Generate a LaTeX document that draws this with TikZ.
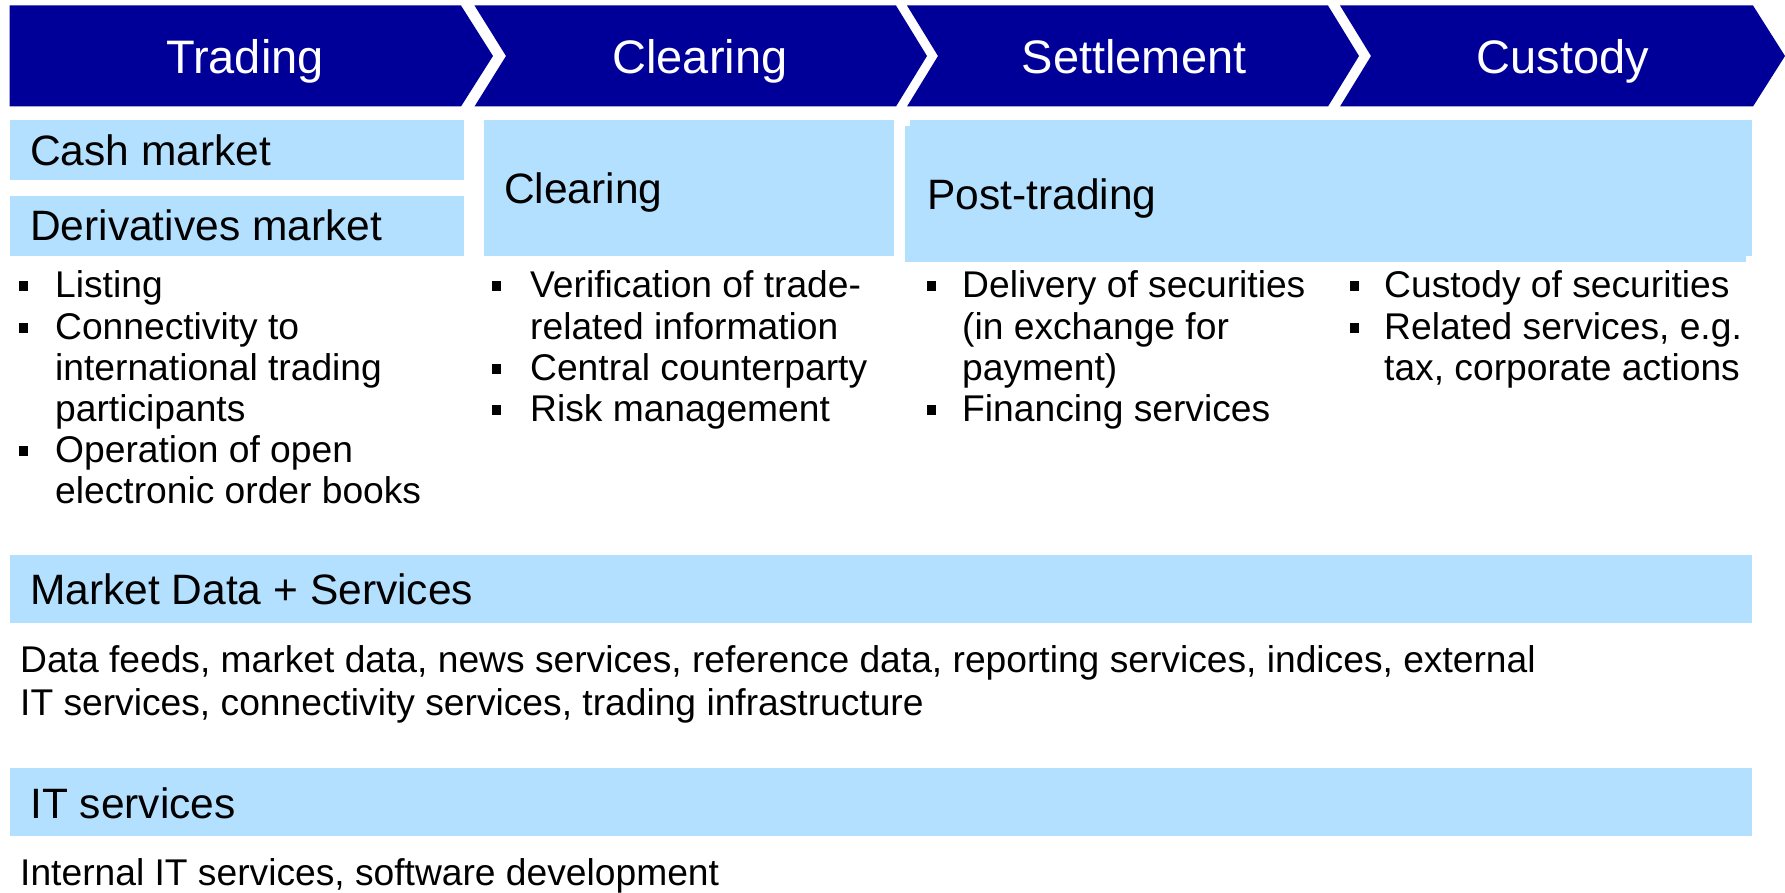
\documentclass[tikz,border=0pt]{standalone}
\usepackage{fontspec}
\setmainfont{Liberation Sans}
\definecolor{navy}{HTML}{000099}
\definecolor{pale}{HTML}{B3E0FF}

\begin{document}
\begin{tikzpicture}[x=1pt,y=-1pt,
  band/.style={fill=pale},
  chevron/.style={fill=navy},
  headtext/.style={text=white,font=\fontsize{47}{50}\selectfont,inner sep=0pt,anchor=base},
  titletext/.style={font=\fontsize{42.5}{46}\selectfont,inner sep=0pt,anchor=base west},
  bodytext/.style={font=\fontsize{37.2}{41}\selectfont,inner sep=0pt,anchor=base west},
  bulletmark/.style={fill=black,shape=rectangle,minimum width=9pt,minimum height=10pt,inner sep=0pt}
]
\useasboundingbox (0,0) rectangle (1785,893);

% --- value chain header ---
\fill[chevron] (9.5,5.5) -- (461,5.5) -- (493,56) -- (461,106.5) -- (9.5,106.5) -- cycle;
\fill[chevron] (474.5,5.5) -- (896,5.5) -- (927,56) -- (896,106.5) -- (474.5,106.5) -- (506,56) -- cycle;
\fill[chevron] (907,5.5) -- (1328,5.5) -- (1359,56) -- (1328,106.5) -- (907,106.5) -- (938,56) -- cycle;
\fill[chevron] (1340,5.5) -- (1753,5.5) -- (1785,56) -- (1753,106.5) -- (1340,106.5) -- (1371,56) -- cycle;
\node[headtext] (hTrading) at (245,74) {Trading};
\node[headtext] (hClearing) at (700,74) {Clearing};
\node[headtext] (hSettlement) at (1134,74) {Settlement};
\node[headtext] (hCustody) at (1563,74) {Custody};

% --- business area bands ---
\fill[band] (9.5,120) rectangle (464,180);
\fill[band] (9.5,196) rectangle (464,256);
\fill[band] (484,120) rectangle (894,256);
\fill[band] (905,126) rectangle (1746,262);
\fill[band] (910,120) rectangle (1752,256);
\node[titletext] (tCash) at (30,166) {Cash market};
\node[titletext] (tDeriv) at (30,241) {Derivatives market};
\node[titletext] (tClear) at (504,204) {Clearing};
\node[titletext] (tPost) at (927,210) {Post-trading};

% --- trading column ---
\node[bulletmark] (b1a) at (23,286.5) {};
\node[bulletmark] (b1b) at (23,327.5) {};
\node[bulletmark] (b1c) at (23,450.5) {};
\node[bodytext] (c1a) at (55,298) {Listing};
\node[bodytext] (c1b) at (55,339) {Connectivity to};
\node[bodytext] (c1c) at (55,380) {international trading};
\node[bodytext] (c1d) at (55,421) {participants};
\node[bodytext] (c1e) at (55,462) {Operation of open};
\node[bodytext] (c1f) at (55,503) {electronic order books};

% --- clearing column ---
\node[bulletmark] (b2a) at (496,286.5) {};
\node[bulletmark] (b2b) at (496,368.5) {};
\node[bulletmark] (b2c) at (496,409.5) {};
\node[bodytext] (c2a) at (530,298) {Verification of trade-};
\node[bodytext] (c2b) at (530,339) {related information};
\node[bodytext] (c2c) at (530,380) {Central counterparty};
\node[bodytext] (c2d) at (530,421) {Risk management};

% --- settlement column ---
\node[bulletmark] (b3a) at (931,286.5) {};
\node[bulletmark] (b3b) at (931,409.5) {};
\node[bodytext] (c3a) at (962,298) {Delivery of securities};
\node[bodytext] (c3b) at (962,339) {(in exchange for};
\node[bodytext] (c3c) at (962,380) {payment)};
\node[bodytext] (c3d) at (962,421) {Financing services};

% --- custody column ---
\node[bulletmark] (b4a) at (1354,286.5) {};
\node[bulletmark] (b4b) at (1354,327.5) {};
\node[bodytext] (c4a) at (1384,298) {Custody of securities};
\node[bodytext] (c4b) at (1384,339) {Related services, e.g.};
\node[bodytext] (c4c) at (1384,380) {tax, corporate actions};

% --- cross-cutting segments ---
\fill[band] (10,555) rectangle (1752,623);
\node[titletext] (tMarket) at (30,604) {Market Data + Services};
\node[bodytext] (pMarketA) at (20,672) {Data feeds, market data, news services, reference data, reporting services, indices, external};
\node[bodytext] (pMarketB) at (20,715) {IT services, connectivity services, trading infrastructure};

\fill[band] (10,768) rectangle (1752,836);
\node[titletext] (tIT) at (30,818) {IT services};
\node[bodytext] (pIT) at (20,885) {Internal IT services, software development};
\end{tikzpicture}
\end{document}
